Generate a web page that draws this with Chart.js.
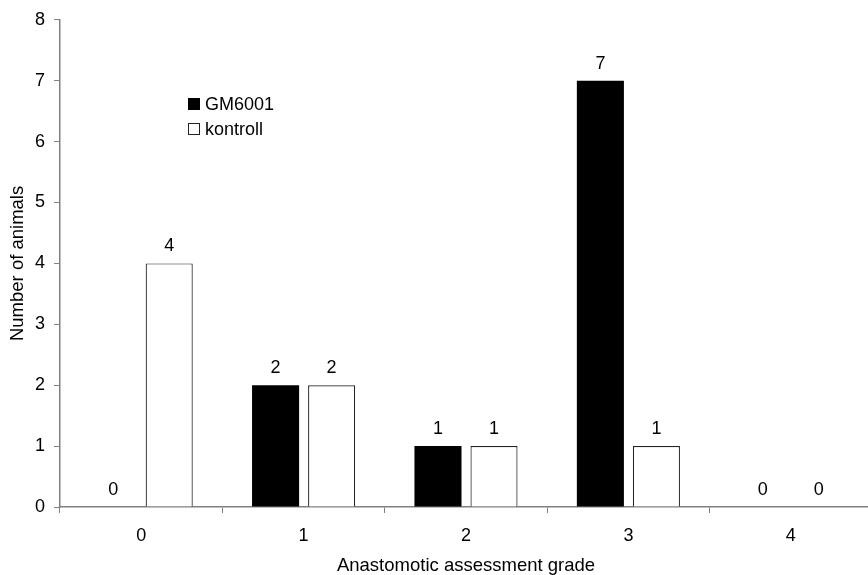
<!DOCTYPE html>
<html lang="en">
<head>
    <meta charset="UTF-8">
    <title>Anastomotic assessment grade</title>
    <script src="https://cdn.jsdelivr.net/npm/chart.js"></script>
    <style>
        html, body { margin: 0; padding: 0; background: #fff; overflow: hidden; }
        /* plot runs slightly past the right edge in the original */
        #wrap { width: 872px; height: 575px; }
    </style>
</head>
<body>
    <div id="wrap"><canvas id="gradeChart"></canvas></div>

    <script>
        const grades = ['0', '1', '2', '3', '4']
        const gm6001 = [0, 2, 1, 7, 0]
        const kontroll = [4, 2, 1, 1, 0]

        const FONT = 'Liberation Sans, Arial, sans-serif'

        // numbers above each bar
        const valueLabels = {
            id: 'valueLabels',
            afterDatasetsDraw(chart) {
                const ctx = chart.ctx
                ctx.save()
                ctx.font = '18px ' + FONT
                ctx.fillStyle = '#000'
                ctx.textAlign = 'center'
                ctx.textBaseline = 'middle'
                chart.data.datasets.forEach((ds, i) => {
                    chart.getDatasetMeta(i).data.forEach((bar, j) => {
                        ctx.fillText(String(ds.data[j]), bar.x, bar.y - 17)
                    })
                })
                ctx.restore()
            }
        }

        // legend sitting inside the plot, like the original
        const insideLegend = {
            id: 'insideLegend',
            afterDraw(chart) {
                const ctx = chart.ctx
                ctx.save()
                ctx.font = '18px ' + FONT
                ctx.textBaseline = 'middle'
                chart.data.datasets.forEach((ds, i) => {
                    const y = 104 + i * 25
                    ctx.fillStyle = ds.backgroundColor
                    ctx.fillRect(188.5, y - 5.5, 11, 11)
                    ctx.strokeStyle = ds.borderColor
                    ctx.lineWidth = 1
                    ctx.strokeRect(188.5, y - 5.5, 11, 11)
                    ctx.fillStyle = '#000'
                    ctx.fillText(ds.label, 205, y + 1)
                })
                ctx.restore()
            }
        }

        const ctx = document.getElementById('gradeChart').getContext('2d')
        new Chart(ctx, {
            type: 'bar',
            data: {
                labels: grades,
                datasets: [{
                    label: 'GM6001',
                    data: gm6001,
                    backgroundColor: '#000000',
                    borderColor: '#000000',
                    borderWidth: 0
                }, {
                    label: 'kontroll',
                    data: kontroll,
                    backgroundColor: '#ffffff',
                    borderColor: '#222222',
                    borderWidth: 1.2
                }]
            },
            options: {
                responsive: true,
                maintainAspectRatio: false,
                animation: false,
                categoryPercentage: 0.69,
                barPercentage: 0.84,
                layout: { padding: { top: 7, right: 0, bottom: 0, left: 0 } },
                plugins: {
                    legend: { display: false },
                    tooltip: { enabled: false }
                },
                scales: {
                    x: {
                        afterFit(scale) { scale.height = 68 },
                        grid: {
                            offset: true,
                            drawOnChartArea: false,
                            tickLength: 6,
                            color: '#808080'
                        },
                        border: { color: '#808080', width: 1.5 },
                        ticks: { color: '#000', font: { family: FONT, size: 18 }, padding: 12 },
                        title: {
                            display: true,
                            text: 'Anastomotic assessment grade',
                            color: '#000',
                            font: { family: FONT, size: 18.5, lineHeight: 1 },
                            padding: { top: 0, bottom: 0 }
                        }
                    },
                    y: {
                        min: 0,
                        max: 8,
                        afterFit(scale) { scale.width = 60 },
                        grid: {
                            drawOnChartArea: false,
                            tickLength: 6,
                            color: '#808080'
                        },
                        border: { color: '#808080', width: 1.5 },
                        ticks: { stepSize: 1, color: '#000', font: { family: FONT, size: 18 }, padding: 9 },
                        title: {
                            display: true,
                            text: 'Number of animals',
                            color: '#000',
                            font: { family: FONT, size: 18.5 },
                            padding: { top: 7, bottom: 0 }
                        }
                    }
                }
            },
            plugins: [valueLabels, insideLegend]
        })
    </script>
</body>
</html>
